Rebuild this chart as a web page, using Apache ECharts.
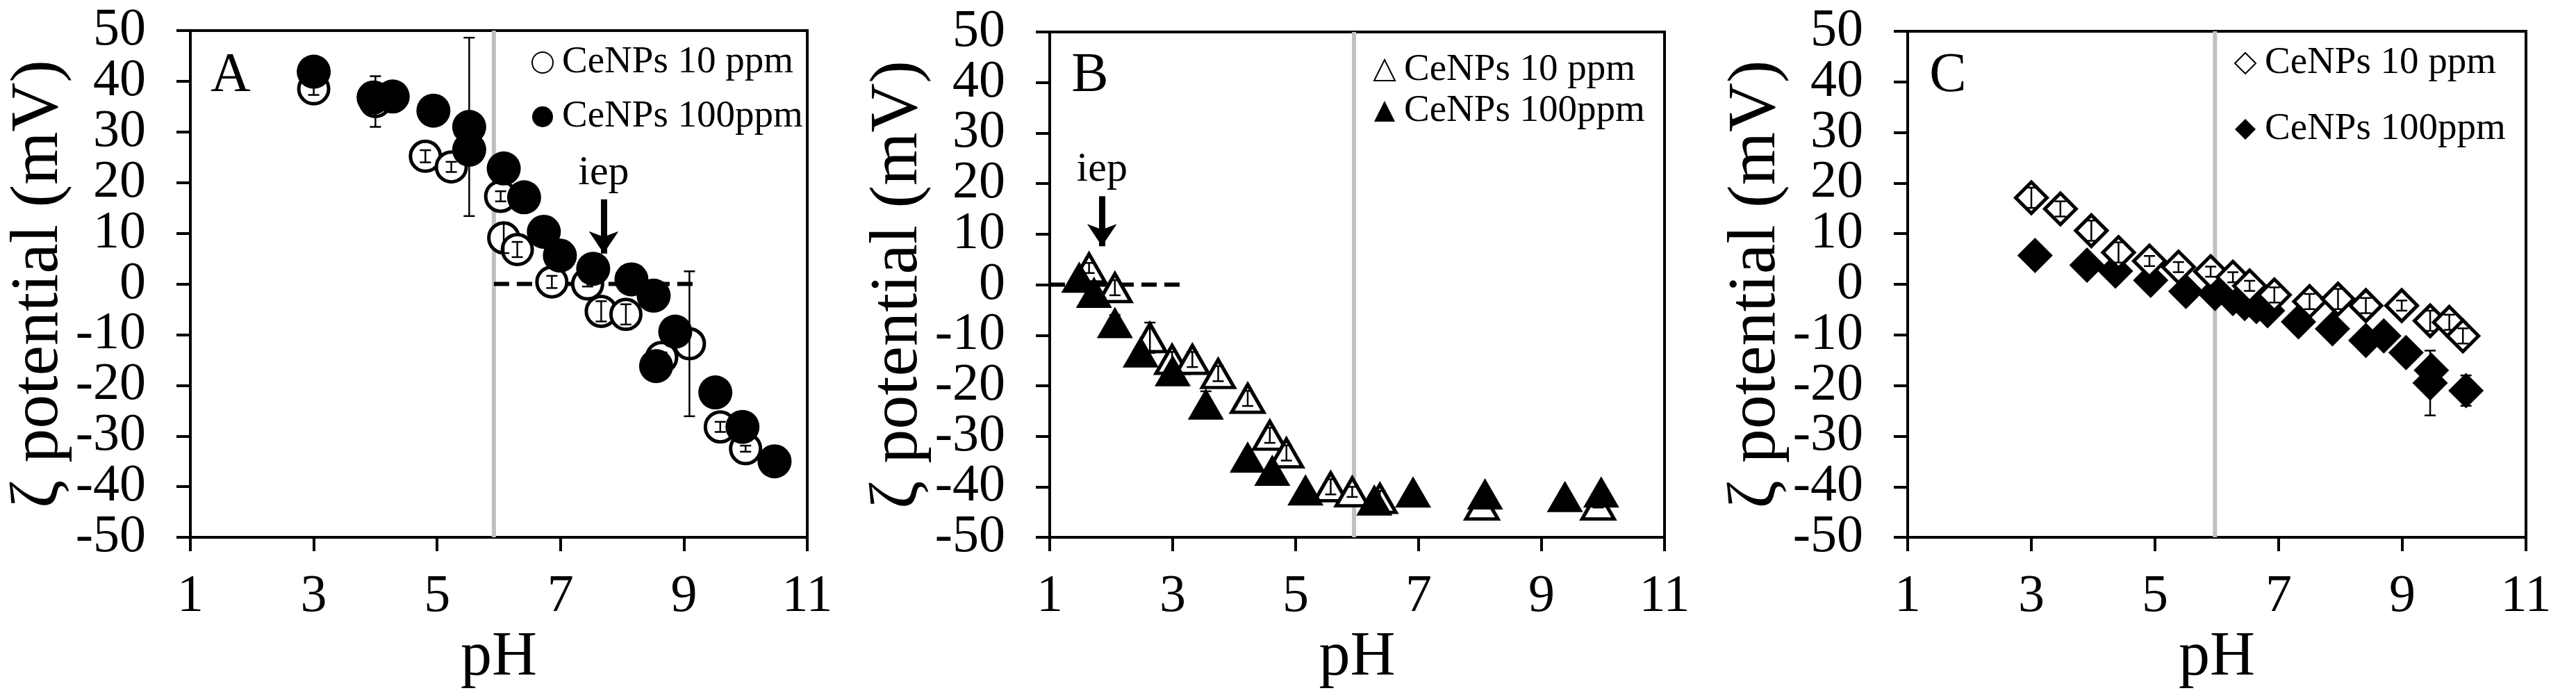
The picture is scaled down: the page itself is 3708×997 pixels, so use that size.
<!DOCTYPE html>
<html>
<head>
<meta charset="utf-8">
<script src="https://cdn.jsdelivr.net/npm/echarts@6/dist/echarts.min.js"></script>
<style>
  html, body { margin: 0; padding: 0; background: #fff; }
  #chart { width: 3708px; height: 997px; }
</style>
</head>
<body>
<div id="chart"></div>
<script>
// ---------------- DATA ----------------
const xTicks = [1, 3, 5, 7, 9, 11];
const yTicks = [-50, -40, -30, -20, -10, 0, 10, 20, 30, 40, 50];
const panelLetters = ['A', 'B', 'C'];
const label10 = 'CeNPs 10 ppm';
const label100 = 'CeNPs 100ppm';

// Panel A (circles)
const A10_x   = [3.0, 4.0, 4.81, 5.23, 6.03, 6.08, 6.30, 6.86, 7.44, 7.66, 8.06, 8.64, 9.09, 9.59, 10.0];
const A10_y   = [38.5, 36.0, 25.2, 23.1, 17.3, 9.1, 6.8, 0.4, 0.0, -5.4, -6.0, -14.5, -11.8, -28.2, -32.5];
const A10_err = [1.2, 5.0, 1.2, 1.0, 1.0, 3.0, 1.5, 1.2, 0.5, 2.0, 2.0, 1.0, 14.3, 1.0, 0.6];
const A100_x   = [3.0, 3.97, 4.28, 4.94, 5.52, 5.52, 6.08, 6.41, 6.73, 6.99, 7.53, 8.15, 8.51, 8.86, 8.55, 9.51, 9.95, 10.47];
const A100_y   = [41.9, 36.8, 37.0, 34.2, 31.0, 26.5, 22.8, 17.1, 10.3, 5.6, 3.0, 0.9, -2.3, -9.4, -16.2, -21.4, -28.2, -35.0];
const A100_err = [0, 0, 0, 0, 17.6, 0, 0, 0, 0, 0, 0, 0, 0, 0, 0, 0, 0, 0];

// Panel B (triangles)
const B10_x   = [1.64, 2.06, 2.63, 2.99, 3.32, 3.74, 4.22, 4.58, 4.85, 5.57, 5.92, 6.37, 8.03, 9.92];
const B10_y   = [3.3, -0.6, -10.5, -14.8, -14.8, -17.6, -22.5, -29.8, -33.3, -40.0, -41.0, -42.3, -43.6, -43.6];
const B10_err = [1.0, 1.5, 3.0, 1.5, 1.5, 1.5, 1.5, 1.5, 1.5, 1.5, 1.0, 1.5, 0.5, 0.5];
const B100_x   = [1.48, 1.72, 2.06, 2.48, 3.0, 3.54, 4.22, 4.62, 5.16, 6.28, 6.91, 8.08, 9.38, 9.97];
const B100_y   = [1.5, -1.5, -7.5, -13.3, -17.0, -23.6, -34.1, -36.7, -40.6, -42.6, -41.0, -41.4, -41.9, -41.0];
const B100_err = [0, 0, 1.5, 0, 0, 2.5, 0, 0, 0, 0, 0, 0, 0, 0];

// Panel C (diamonds)
const C10_x   = [3.0, 3.47, 3.97, 4.41, 4.91, 5.38, 5.90, 6.26, 6.53, 6.93, 7.50, 7.96, 8.41, 8.99, 9.45, 9.76, 9.98];
const C10_y   = [17.1, 14.9, 10.6, 6.3, 4.6, 3.4, 2.5, 1.4, -0.3, -2.1, -3.4, -2.9, -4.2, -4.2, -7.2, -7.5, -10.2];
const C10_err = [2.0, 1.5, 2.0, 2.0, 1.0, 1.0, 1.0, 1.0, 1.0, 1.5, 1.5, 2.0, 1.5, 1.0, 2.0, 1.5, 1.5];
const C100_x   = [3.06, 3.9, 4.36, 4.93, 5.5, 5.97, 6.26, 6.45, 6.64, 6.82, 7.32, 7.87, 8.41, 8.70, 9.06, 9.47, 9.45, 10.03];
const C100_y   = [5.7, 3.8, 2.6, 0.8, -1.4, -1.8, -2.8, -3.8, -4.4, -5.2, -7.4, -8.8, -11.1, -10.2, -13.5, -17.0, -19.5, -21.0];
const C100_err = [0, 0, 0, 0, 0, 0, 0, 0, 0, 0, 0, 0, 0, 0, 0, 0, 6.4, 3.0];

// Reference lines / annotations (data units)
const greyLinePH = [5.92, 5.95, 5.97];
const zeroLineA = [5.92, 9.26];
const zeroLineB = [1.0, 3.16];
const iepA = { x: 7.70, from: 16.7, to: 6.0 };
const iepB = { x: 1.85, from: 17.5, to: 7.6 };

// ---------------- LAYOUT ----------------
const FONT = '"Liberation Serif", "Times New Roman", serif';
const grids = [
  { left: 274, top: 44, width: 888, height: 743 },
  { left: 1511, top: 46, width: 885, height: 739 },
  { left: 2746, top: 45, width: 890, height: 738 }
];
const legendPos = [
  { left: 765, top: 62, gap: 22 },
  { left: 1977, top: 73, gap: 3 },
  { left: 3216, top: 63, gap: 39 }
];

// y tick labels split over two co-located axes so none is dropped as "overlapping"
const yTicksEven = yTicks.filter((v, k) => k % 2 === 1);  // -40, -20, ..., 40

function pts(xs, ys) { return xs.map((v, i) => [v, ys[i]]); }
function errPts(xs, ys, es) { return xs.map((v, i) => [v, ys[i], es[i]]); }

function errRender(params, api) {
  const x = api.value(0), y = api.value(1), e = api.value(2);
  if (!e) return { type: 'group', children: [] };
  const hi = api.coord([x, y + e]);
  const lo = api.coord([x, y - e]);
  const w = 8;
  const st = { stroke: '#000', lineWidth: 2.5 };
  return {
    type: 'group',
    children: [
      { type: 'line', shape: { x1: hi[0], y1: hi[1], x2: lo[0], y2: lo[1] }, style: st },
      { type: 'line', shape: { x1: hi[0] - w, y1: hi[1], x2: hi[0] + w, y2: hi[1] }, style: st },
      { type: 'line', shape: { x1: lo[0] - w, y1: lo[1], x2: lo[0] + w, y2: lo[1] }, style: st }
    ]
  };
}

const xAxes = [], yAxes = [], gridOpts = [], legends = [], series = [], graphics = [];
const legendText = {};
const yLabelStyle = { fontFamily: FONT, fontSize: 76, color: '#000', margin: 64 };
const tickStyle = { show: true, inside: false, length: 20, lineStyle: { color: '#000', width: 4 } };

grids.forEach((g, i) => {
  gridOpts.push({ left: g.left, top: g.top, width: g.width, height: g.height, show: true,
                  borderColor: '#000', borderWidth: 4, backgroundColor: '#fff' });
  xAxes.push({
    type: 'value', gridIndex: i, min: xTicks[0], max: xTicks[xTicks.length - 1], interval: 2,
    name: 'pH', nameLocation: 'middle', nameGap: 98,
    nameTextStyle: { fontFamily: FONT, fontSize: 90, color: '#000' },
    axisLine: { show: true, onZero: false, lineStyle: { color: '#000', width: 4 } },
    axisTick: tickStyle,
    axisLabel: { fontFamily: FONT, fontSize: 76, lineHeight: 60, color: '#000', margin: 56,
                 showMinLabel: true, showMaxLabel: true },
    splitLine: { show: false }
  });
  // primary y axis: -50, -30, ..., 50
  yAxes.push({
    type: 'value', gridIndex: i, position: 'left', offset: 0,
    min: yTicks[0], max: yTicks[yTicks.length - 1], interval: 20,
    name: 'ζ potential (mV)', nameLocation: 'middle', nameGap: 132,
    nameTextStyle: { fontFamily: FONT, fontSize: 98, color: '#000' },
    axisLine: { show: true, onZero: false, lineStyle: { color: '#000', width: 4 } },
    axisTick: tickStyle,
    axisLabel: Object.assign({ showMinLabel: true, showMaxLabel: true }, yLabelStyle),
    splitLine: { show: false }
  });
  // secondary y axis (same scale): -40, -20, ..., 40
  yAxes.push({
    type: 'value', gridIndex: i, position: 'left', offset: 0,
    min: yTicks[0], max: yTicks[yTicks.length - 1], interval: 20,
    axisLine: { show: false, onZero: false },
    axisTick: Object.assign({ customValues: yTicksEven }, tickStyle),
    axisLabel: Object.assign({ customValues: yTicksEven, showMinLabel: true, showMaxLabel: true }, yLabelStyle),
    splitLine: { show: false }
  });
  graphics.push({
    type: 'text', x: g.left + 58, y: 110, z: 100,
    style: { text: panelLetters[i], font: '80px ' + FONT, fill: '#000', align: 'center', verticalAlign: 'middle' }
  });
});

const yIdx = i => 2 * i;

// grey vertical reference lines
greyLinePH.forEach((ph, i) => {
  series.push({
    type: 'line', xAxisIndex: i, yAxisIndex: yIdx(i), data: [[ph, yTicks[0]], [ph, yTicks[yTicks.length - 1]]],
    symbol: 'none', silent: true, z: 1,
    lineStyle: { color: '#c0c0c0', width: 6, opacity: 1 }
  });
});

function zeroAndArrow(i, zl, iep) {
  series.push({
    type: 'line', xAxisIndex: i, yAxisIndex: yIdx(i), data: [[zl[0], 0], [zl[1], 0]],
    symbol: 'none', silent: true, z: 2,
    lineStyle: { color: '#000', width: 6, type: [22, 11], opacity: 1 },
    markLine: {
      silent: true, symbol: ['none', 'arrow'], symbolSize: [32, 32],
      lineStyle: { color: '#000', width: 9, type: 'solid', opacity: 1 },
      label: { show: true, position: 'start', formatter: 'iep', fontFamily: FONT, fontSize: 60, color: '#000', distance: 8 },
      data: [[{ coord: [iep.x, iep.from] }, { coord: [iep.x, iep.to] }]]
    }
  });
}
zeroAndArrow(0, zeroLineA, iepA);
zeroAndArrow(1, zeroLineB, iepB);

const openStyle = { color: '#fff', borderColor: '#000', borderWidth: 5, opacity: 1 };
const fillStyle = { color: '#000', borderColor: '#000', borderWidth: 0, opacity: 1 };

function addPair(i, symbol, size, xs10, ys10, e10, xs100, ys100, e100, openOnTop) {
  const n10 = panelLetters[i] + '10', n100 = panelLetters[i] + '100';
  legendText[n10] = label10; legendText[n100] = label100;
  const s10 = { name: n10, type: 'scatter', xAxisIndex: i, yAxisIndex: yIdx(i), symbol: symbol,
    symbolSize: size.open, data: pts(xs10, ys10), itemStyle: openStyle, z: openOnTop ? 4 : 3 };
  const s100 = { name: n100, type: 'scatter', xAxisIndex: i, yAxisIndex: yIdx(i), symbol: symbol,
    symbolSize: size.fill, data: pts(xs100, ys100), itemStyle: fillStyle, z: openOnTop ? 3 : 4 };
  series.push(s10, s100);
  series.push({ type: 'custom', xAxisIndex: i, yAxisIndex: yIdx(i), renderItem: errRender, silent: true, z: 5,
    data: errPts(xs10, ys10, e10), encode: { x: 0, y: 1 } });
  series.push({ type: 'custom', xAxisIndex: i, yAxisIndex: yIdx(i), renderItem: errRender, silent: true, z: 5,
    data: errPts(xs100, ys100, e100), encode: { x: 0, y: 1 } });
  const lp = legendPos[i];
  legends.push({
    data: [n10, n100], orient: 'vertical', left: lp.left, top: lp.top, itemGap: lp.gap,
    itemWidth: 30, itemHeight: 30, padding: 0, selectedMode: false,
    formatter: name => legendText[name],
    textStyle: { fontFamily: FONT, fontSize: 55, lineHeight: 56, color: '#000', padding: [0, 0, 0, 8] }
  });
}

addPair(0, 'circle', { open: 43, fill: 49 }, A10_x, A10_y, A10_err, A100_x, A100_y, A100_err, false);
addPair(1, 'triangle', { open: [46, 40], fill: [52, 45] }, B10_x, B10_y, B10_err, B100_x, B100_y, B100_err, false);
addPair(2, 'diamond', { open: 45, fill: 51 }, C10_x, C10_y, C10_err, C100_x, C100_y, C100_err, true);

const chart = echarts.init(document.getElementById('chart'), null, { renderer: 'canvas' });
chart.setOption({
  animation: false,
  backgroundColor: '#fff',
  grid: gridOpts,
  xAxis: xAxes,
  yAxis: yAxes,
  legend: legends,
  graphic: graphics,
  series: series
});
</script>
</body>
</html>
